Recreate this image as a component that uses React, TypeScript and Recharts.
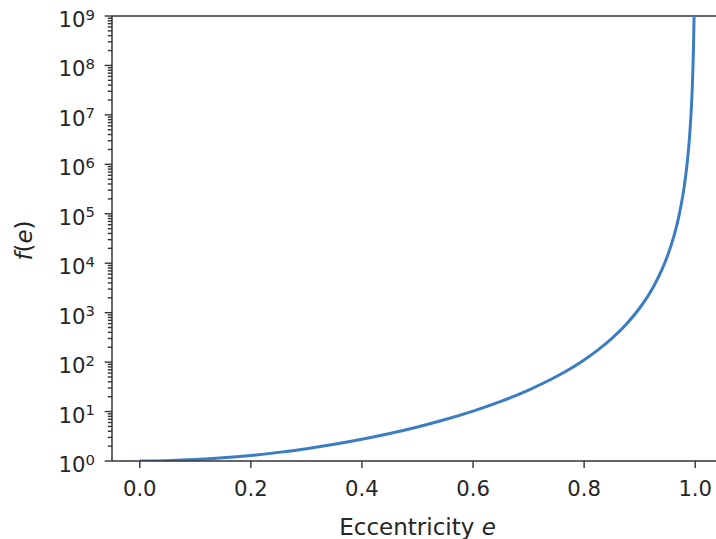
import React from "react";
import { Label, Line, LineChart, ReferenceLine, XAxis, YAxis } from "recharts";

// eccentricity (x) and f(e) (y)
const ecc = [
  0, 0.05, 0.1, 0.15, 0.2, 0.25, 0.3, 0.35, 0.4, 0.45, 0.5, 0.55, 0.6, 0.65, 0.7, 0.75, 0.775, 0.8,
  0.825, 0.85, 0.875, 0.9, 0.925, 0.94, 0.95, 0.96, 0.97, 0.98, 0.985, 0.99, 0.993, 0.995, 0.997,
  0.998, 0.999,
];
const fe = [
  1, 1.017, 1.067, 1.157, 1.295, 1.494, 1.776, 2.178, 2.755, 3.602, 4.884, 6.9, 10.23, 16.09, 27.27,
  51.15, 73.7, 110.9, 176.5, 301.8, 570, 1243, 3396, 7415, 14040, 30630, 83780, 346000, 947000,
  3920000, 13600000, 44300000, 265000000, 1100000000, 12400000000,
];

const xTicks = [0, 0.2, 0.4, 0.6, 0.8, 1.0];
const decadeExps = [0, 1, 2, 3, 4, 5, 6, 7, 8, 9];
const minorSteps = [2, 3, 4, 5, 6, 7, 8, 9];

const yMajor = decadeExps.map((k) => Math.pow(10, k));
const yMinor = decadeExps.slice(0, -1).flatMap((k) => minorSteps.map((m) => m * Math.pow(10, k)));
const yTicks = [...yMajor, ...yMinor].sort((a, b) => a - b);

const data = ecc.map((e, i) => ({ e, f: fe[i] }));

const FONT = "'DejaVu Sans', sans-serif";
const INK = "#262626";
const SPINE = "#333";

const Y_TICK_MARGIN = 0;
const Y_TICK_SIZE = 0;

function YTick(props: any) {
  const { x, y, payload } = props;
  const v = payload.value as number;
  const exp = Math.round(Math.log10(v));
  const major = Math.abs(v - Math.pow(10, exp)) < 1e-6 * v;
  const spineX = x + Y_TICK_SIZE + Y_TICK_MARGIN;
  const len = major ? 7.3 : 4.2;
  return (
    <g>
      <line x1={spineX - len} x2={spineX} y1={y} y2={y} stroke={SPINE} strokeWidth={1.4} />
      {major && (
        <text x={spineX - 17} y={y + 11} textAnchor="end" fill={INK} fontSize={21.2} fontFamily={FONT}>
          10
          <tspan dy={-7.5} fontSize={14.8}>
            {exp}
          </tspan>
        </text>
      )}
    </g>
  );
}

function XLabel(props: any) {
  const vb = props.viewBox;
  return (
    <text x={vb.x + vb.width / 2} y={vb.y + 74} textAnchor="middle" fill={INK} fontSize={23} fontFamily={FONT}>
      Eccentricity <tspan fontStyle="italic">e</tspan>
    </text>
  );
}

function YLabel(props: any) {
  const vb = props.viewBox;
  const cy = vb.y + vb.height / 2 + 2;
  return (
    <text
      transform={`translate(32, ${cy}) rotate(-90)`}
      textAnchor="middle"
      fill={INK}
      fontSize={23}
      fontFamily={FONT}
    >
      <tspan fontStyle="italic">f</tspan>(<tspan fontStyle="italic">e</tspan>)
    </text>
  );
}

export default function App() {
  return (
    <div style={{ position: "absolute", left: 0, top: 0, width: 716, height: 539, overflow: "hidden", background: "#fff" }}>
      <LineChart width={723} height={539} data={data} margin={{ top: 16, right: 0, left: 0, bottom: 0 }}>
        <XAxis
          dataKey="e"
          type="number"
          domain={[-0.05, 1.05]}
          ticks={xTicks}
          tickFormatter={(v: number) => v.toFixed(1)}
          height={78}
          tickSize={7}
          tickMargin={13}
          axisLine={{ stroke: SPINE, strokeWidth: 1.5 }}
          tickLine={{ stroke: SPINE, strokeWidth: 1.4 }}
          tick={{ fill: INK, fontSize: 21.2, fontFamily: FONT }}
        >
          <Label content={XLabel} />
        </XAxis>
        <YAxis
          dataKey="f"
          scale="log"
          domain={[1, 1e9]}
          allowDataOverflow
          ticks={yTicks}
          interval={0}
          width={112}
          tickSize={Y_TICK_SIZE}
          tickMargin={Y_TICK_MARGIN}
          tickLine={false}
          axisLine={{ stroke: SPINE, strokeWidth: 1.5 }}
          tick={YTick}
        >
          <Label content={YLabel} />
        </YAxis>
        <ReferenceLine y={1e9} stroke={SPINE} strokeWidth={1.5} />
        <Line
          type="monotone"
          dataKey="f"
          stroke="#3a7dc2"
          strokeWidth={3}
          dot={false}
          activeDot={false}
          isAnimationActive={false}
        />
      </LineChart>
    </div>
  );
}
